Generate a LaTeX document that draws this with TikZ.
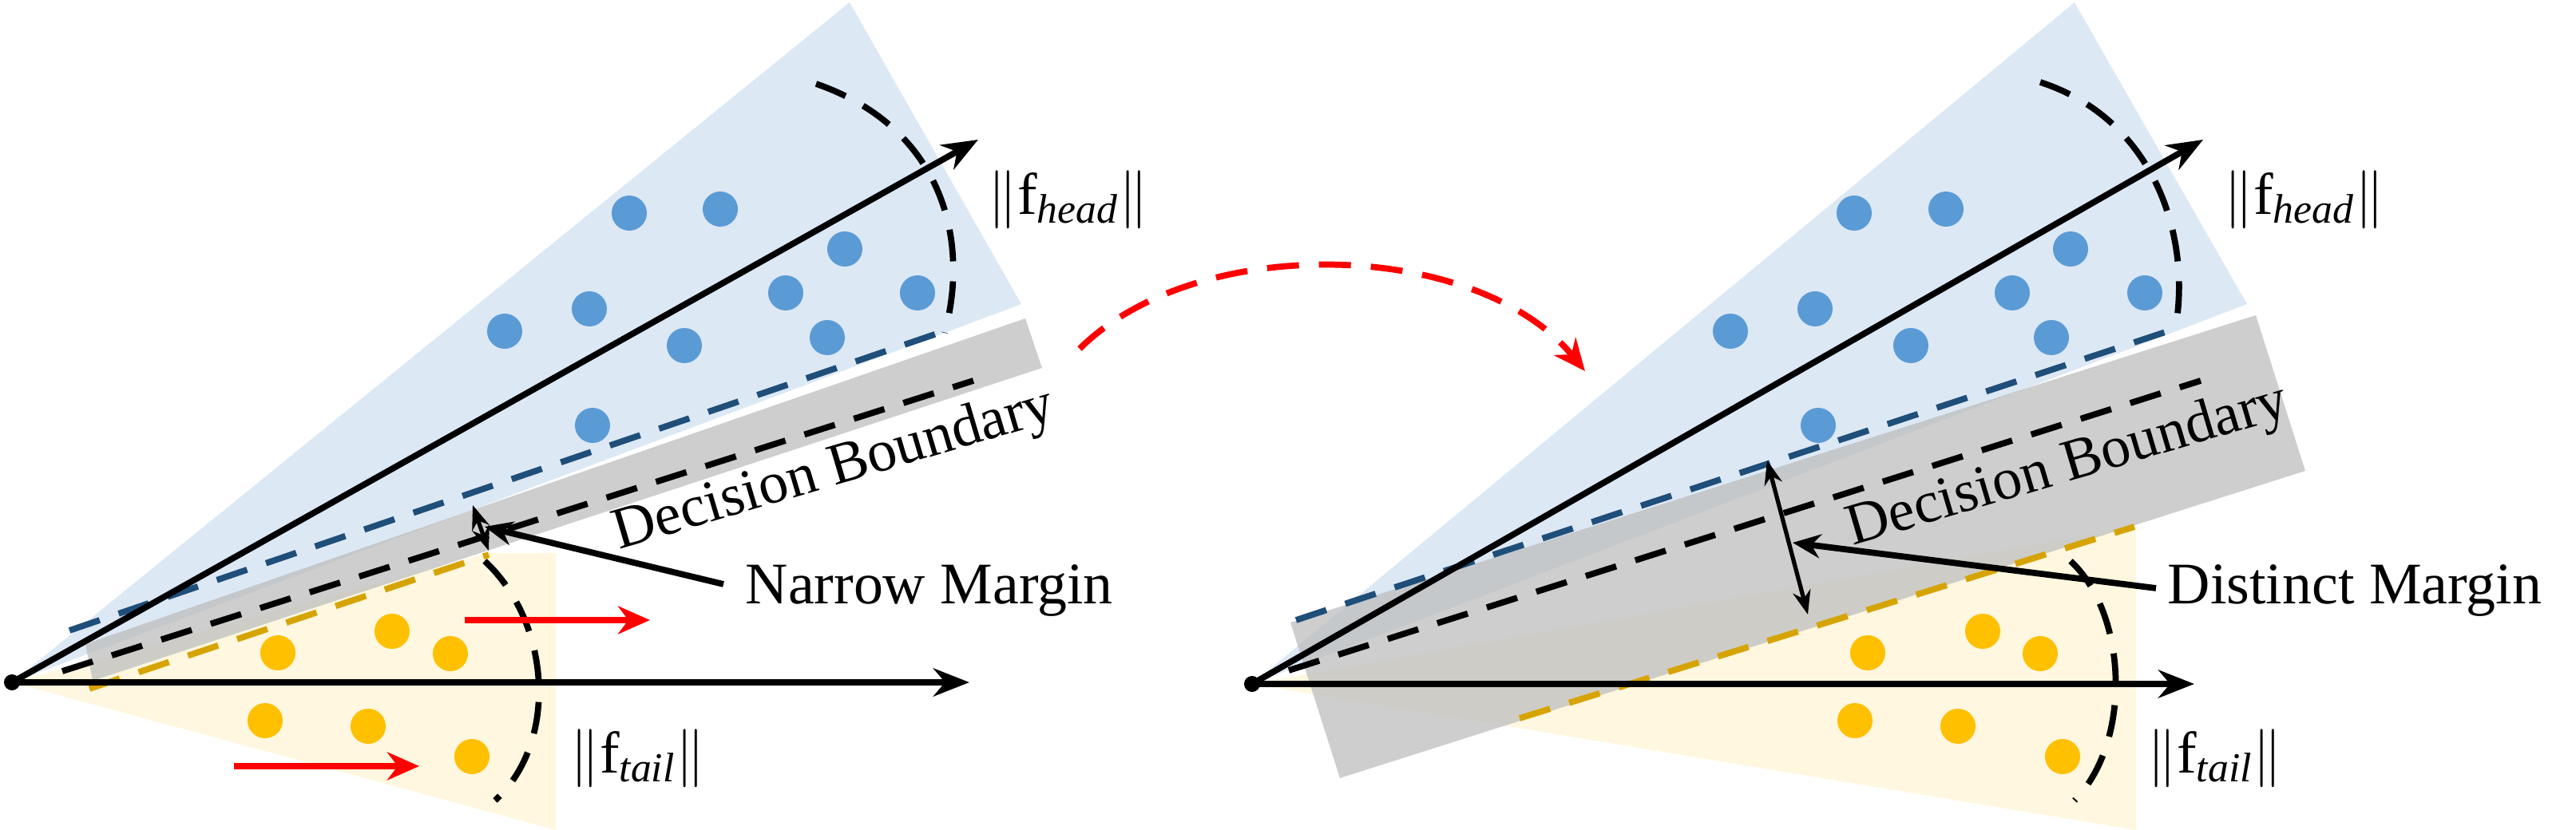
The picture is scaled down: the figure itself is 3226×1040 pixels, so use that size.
\documentclass[tikz,border=0pt]{standalone}
\usepackage{fontspec}
\setmainfont{Liberation Serif}
\usetikzlibrary{arrows.meta}
\definecolor{headfill}{RGB}{221,232,245}
\definecolor{headdot}{RGB}{91,155,213}
\definecolor{headline}{RGB}{31,78,121}
\definecolor{tailfill}{RGB}{255,247,223}
\definecolor{taildot}{RGB}{255,192,0}
\definecolor{tailline}{RGB}{214,164,0}
\definecolor{bandfill}{RGB}{190,190,190}
\tikzset{
  axis/.style={line width=2.2pt, -{Stealth[length=0.45cm,width=0.35cm]}},
  dashline/.style={line width=2.2pt, dash pattern=on 0.4cm off 0.25cm},
  hdot/.style={circle, fill=headdot, minimum width=0.4cm, minimum height=0.44cm, inner sep=0pt},
  tdot/.style={circle, fill=taildot, minimum width=0.4cm, minimum height=0.44cm, inner sep=0pt},
  lbl/.style={font=\fontsize{21}{25}\selectfont, inner sep=0pt},
  redarrow/.style={red, line width=2.2pt, -{Stealth[length=0.4cm,width=0.35cm]}},
}
\begin{document}
\begin{tikzpicture}[x=0.01cm, y=-0.01cm]
  \useasboundingbox (0,0) rectangle (3226,1040);
  % left panel
  \coordinate (O1) at (15,855);
  \fill[headfill] (O1) -- (1064,3) -- (1279,381) -- cycle;
  \fill[tailfill] (O1) -- (612,693) -- (696,693) -- (696,1040) -- cycle;
  \fill[bandfill, opacity=0.75] (107,807) -- (1284,399) -- (1305,461) -- (116,853) -- cycle;
  \draw[dashline, headline] (87,790) -- (1188,413);
  \draw[dashline, tailline] (112,863) -- (612,695);
  \draw[dashline] (78,841) -- (1219,477);
  \draw[dashline] (1022,105) .. controls (1180,160) and (1215,300) .. (1183,417);
  \draw[dashline] (607,703) .. controls (690,780) and (700,930) .. (620,1003);
  \draw[axis] (O1) -- (1214,855);
  \draw[axis] (O1) -- (1225,175);
  \fill (O1) circle (0.1cm);
  \foreach \x/\y in {788/267,902/262,1058/312,984/367,1149/367,738/387,632/415,857/433,1036/423,742/533}
    \node[hdot] at (\x,\y) {};
  \foreach \x/\y in {491/791,348/818,564/819,332/903,461/910,591/948}
    \node[tdot] at (\x,\y) {};
  \draw[redarrow] (582,777) -- (814,777);
  \draw[redarrow] (293,960) -- (525,960);
  \draw[line width=1.5pt, {Stealth[length=0.3cm]}-{Stealth[length=0.3cm]}] (592,633) -- (612,690);
  \node[lbl, anchor=west] (narrow) at (933,740) {Narrow Margin};
  \draw[line width=2.2pt, -{Stealth[length=0.35cm,width=0.3cm]}] (906,732) -- (607,660);
  \node[lbl, rotate=16.5] (db1) at (1045,590) {Decision Boundary};
  \node[lbl, anchor=west] (head1) at (1237,250) {$\|$f$_{\mathit{head}}\|$};
  \node[lbl, anchor=west] (tail1) at (714,950) {$\|$f$_{\mathit{tail}}\|$};
  % transition
  \draw[red, line width=2.2pt, dash pattern=on 0.4cm off 0.25cm, -{Stealth[length=0.4cm,width=0.35cm]}]
    (1352,437) .. controls (1500,290) and (1850,300) .. (1985,465);
  % right panel
  \coordinate (O2) at (1568,857);
  \fill[headfill] (O2) -- (2598,3) -- (2814,381) -- cycle;
  \fill[tailfill] (O2) -- (2675,660) -- (2675,1040) -- cycle;
  \fill[bandfill, opacity=0.75] (1616,780) -- (2825,395) -- (2887,590) -- (1678,975) -- cycle;
  \draw[dashline, headline] (1623,777) -- (2721,413);
  \draw[dashline, tailline] (1903,900) -- (2673,660);
  \draw[dashline] (1614,840) -- (2756,477);
  \draw[dashline] (2555,103) .. controls (2700,150) and (2745,300) .. (2724,413);
  \draw[dashline] (2593,703) .. controls (2665,770) and (2670,930) .. (2598,1003);
  \draw[axis] (O2) -- (2748,857);
  \draw[axis] (O2) -- (2759,175);
  \fill (O2) circle (0.1cm);
  \foreach \x/\y in {2322/267,2437/262,2593/312,2520/367,2686/367,2273/387,2167/415,2393/433,2569/423,2277/533}
    \node[hdot] at (\x,\y) {};
  \foreach \x/\y in {2483/791,2339/818,2555/819,2323/903,2452/910,2583/948}
    \node[tdot] at (\x,\y) {};
  \draw[line width=1.5pt, {Stealth[length=0.3cm]}-{Stealth[length=0.3cm]}] (2213,577) -- (2264,770);
  \node[lbl, anchor=west] (distinct) at (2714,740) {Distinct Margin};
  \draw[line width=2.2pt, -{Stealth[length=0.35cm,width=0.3cm]}] (2700,737) -- (2245,680);
  \node[lbl, rotate=16.5] (db2) at (2590,585) {Decision Boundary};
  \node[lbl, anchor=west] (head2) at (2785,250) {$\|$f$_{\mathit{head}}\|$};
  \node[lbl, anchor=west] (tail2) at (2689,950) {$\|$f$_{\mathit{tail}}\|$};
\end{tikzpicture}
\end{document}
